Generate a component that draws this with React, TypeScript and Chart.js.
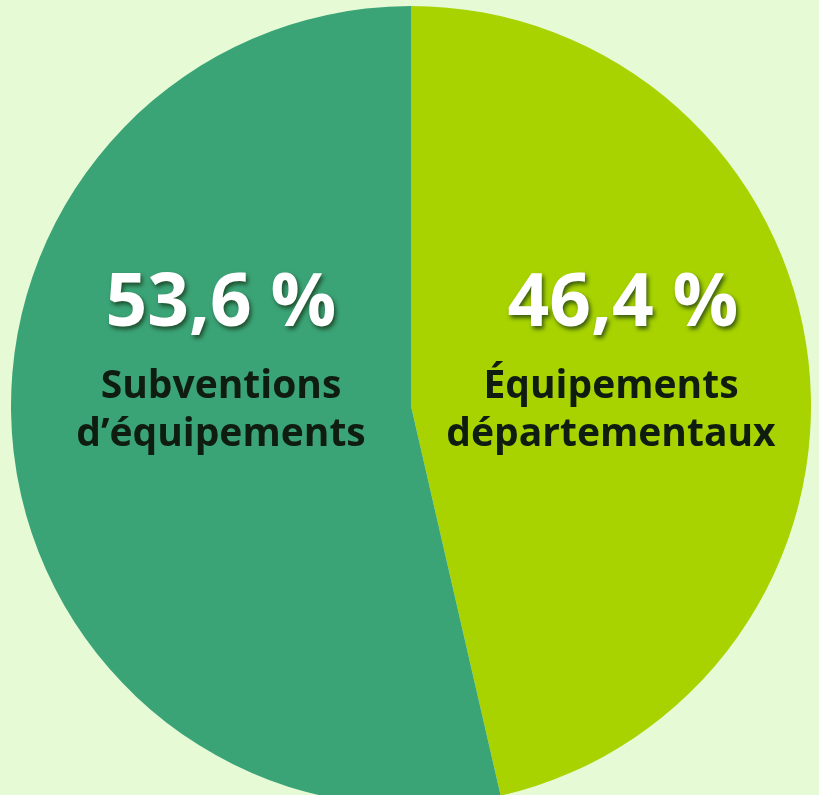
import React, { useEffect, useRef } from "react";
import { Chart, registerables } from "chart.js";

Chart.register(...registerables);

const categories = ["Équipements départementaux", "Subventions d’équipements"];
const labelLines = [["Équipements", "départementaux"], ["Subventions", "d’équipements"]];
const values = [46.4, 53.6];
const percentLabels = ["46,4 %", "53,6 %"];
const colors = ["#a8d300", "#3ba477"];
const BG = "#e6fad6";

const labelPlugin = {
  id: "sliceLabels",
  afterDatasetsDraw(chart: any) {
    const ctx = chart.ctx;
    const meta = chart.getDatasetMeta(0);
    meta.data.forEach((arc: any, i: number) => {
      const r = arc.outerRadius;
      const mid = (arc.startAngle + arc.endAngle) / 2;
      const side = Math.cos(mid) >= 0 ? 1 : -1;
      const pcx = arc.x + side * (side > 0 ? 0.53 : 0.475) * r;
      const lcx = arc.x + side * (side > 0 ? 0.5 : 0.475) * r;
      ctx.save();
      ctx.textAlign = "center";
      ctx.textBaseline = "alphabetic";
      ctx.font = "bold 73px 'Open Sans'";
      ctx.shadowColor = "rgba(20,50,20,0.75)";
      ctx.shadowOffsetX = 2;
      ctx.shadowOffsetY = 3;
      ctx.shadowBlur = 4;
      ctx.fillStyle = "#ffffff";
      ctx.fillText(percentLabels[i], pcx, arc.y - 0.2 * r);
      ctx.restore();
      ctx.save();
      ctx.textAlign = "center";
      ctx.textBaseline = "alphabetic";
      ctx.font = "bold 39px 'Open Sans'";
      ctx.fillStyle = "#0f1d10";
      labelLines[i].forEach((line, j) => {
        ctx.fillText(line, lcx, arc.y - 8 + j * 48);
      });
      ctx.restore();
    });
  },
};

export default function App() {
  const ref = useRef<HTMLCanvasElement>(null);
  useEffect(() => {
    document.body.style.margin = "0";
    document.body.style.background = BG;
    const chart = new Chart(ref.current!, {
      type: "pie",
      data: {
        labels: categories,
        datasets: [
          {
            data: values,
            backgroundColor: colors,
            borderWidth: 0,
            hoverOffset: 0,
            offset: 0,
          },
        ],
      },
      options: {
        responsive: false,
        animation: false,
        layout: { padding: { left: 11, right: 8, top: 6, bottom: 6 } },
        plugins: {
          legend: { display: false },
          tooltip: { enabled: false },
        },
      },
      plugins: [labelPlugin],
    });
    return () => chart.destroy();
  }, []);
  return (
    <div style={{ position: "fixed", left: 0, top: 0, width: 819, height: 812, background: BG }}>
      <canvas ref={ref} width={819} height={812} style={{ display: "block" }} />
    </div>
  );
}
